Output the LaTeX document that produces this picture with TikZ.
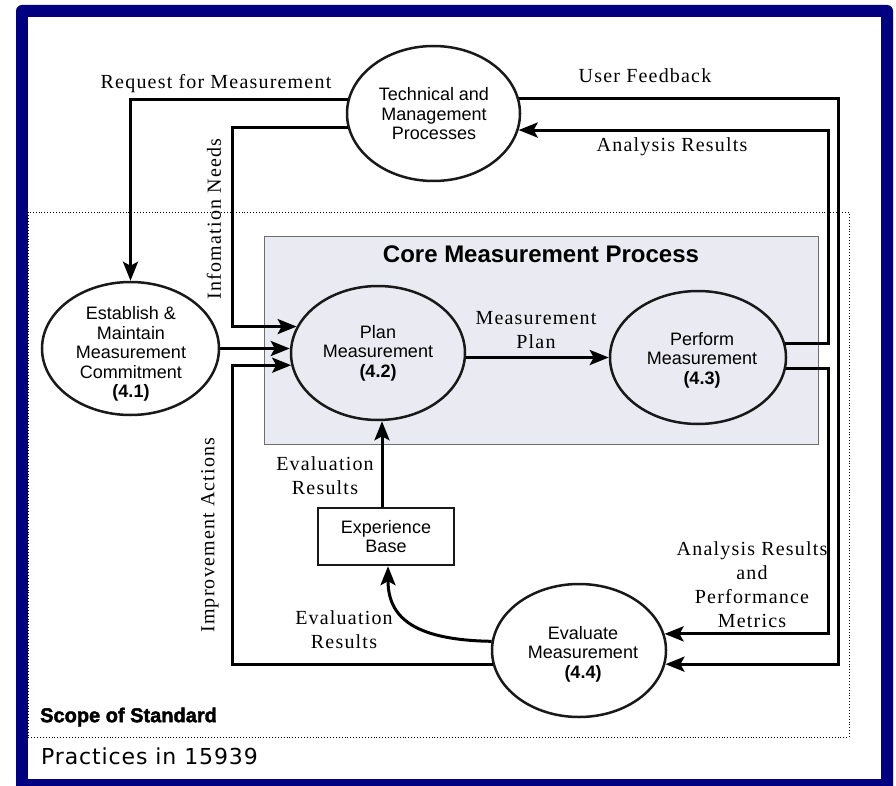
\documentclass[tikz,border=0pt]{standalone}
\usepackage{fontspec}
\setmainfont{Liberation Serif}
\setsansfont{Liberation Sans}
\newfontfamily\verdfont[LetterSpace=4]{DejaVu Sans}
\newfontfamily\blackfont[FakeBold=2]{Liberation Sans Bold}
\newfontfamily\lblfont[LetterSpace=6]{Liberation Serif}
\usetikzlibrary{shapes.geometric,arrows.meta,calc}
\definecolor{navy}{RGB}{0,0,128}
\definecolor{corefill}{RGB}{234,234,242}
\definecolor{coreedge}{RGB}{110,110,110}
\begin{document}
\begin{tikzpicture}[x=1pt,y=-1pt,
  proc/.style={ellipse, draw=black!90, line width=2.5pt, inner sep=0pt},
  ptext/.style={font=\sffamily\fontsize{18}{19.5}\selectfont, align=center, inner sep=0pt},
  arrowline/.style={line width=3pt, -{Stealth[length=19pt,width=15pt,inset=4pt]}},
  lbl/.style={font=\lblfont\fontsize{20}{24}\selectfont, align=center, inner sep=0pt},
]
\useasboundingbox (0,0) rectangle (896,786);
\clip (0,0) rectangle (896,786);
% frame
\fill[navy, rounded corners=6pt] (16,5) rectangle (893,800);
\fill[white] (28,17) rectangle (881,779);
% scope of standard
\draw[dotted, line width=0.9pt] (28,212.5) rectangle (849,737);
% core box
\node[draw=coreedge, fill=corefill, line width=1pt, minimum width=554pt, minimum height=207pt, inner sep=0pt] (core) at (541,340.5) {};
\node[font=\sffamily\bfseries\fontsize{24}{28}\selectfont, inner sep=0pt] (coretitle) at (541,254) {Core Measurement Process};

% processes
\node[proc, minimum width=173pt, minimum height=135pt] (tm) at (433.5,113.5) {};
\node[proc, minimum width=177pt, minimum height=133pt] (estab) at (130.5,348.5) {};
\node[proc, minimum width=174pt, minimum height=134pt] (plan) at (378,353) {};
\node[proc, minimum width=176pt, minimum height=133pt] (perf) at (698,357.5) {};
\node[proc, minimum width=174pt, minimum height=133pt] (evalm) at (579,650.5) {};

\node[ptext] (tmtext) at (434,114) {Technical and\\Management\\Processes};
\node[ptext] (estabtext) at (131,354) {Establish \&\\Maintain\\Measurement\\Commitment\\\textbf{(4.1)}};
\node[ptext] (plantext) at (378,353) {Plan\\Measurement\\\textbf{(4.2)}};
\node[ptext] (perftext) at (702,360) {Perform\\Measurement\\\textbf{(4.3)}};
\node[ptext] (evaltext) at (583,654) {Evaluate\\Measurement\\\textbf{(4.4)}};

\node[draw=black!90, line width=2.4pt, minimum width=136pt, minimum height=57pt, ptext] (exp) at (386,536.5) {Experience\\Base};

% helper columns
\coordinate (inL) at (232,0);
\coordinate (rA) at (828,0);
\coordinate (rB) at (838,0);

% connectors
\draw[arrowline] (tm.171.4) -| (estab.north);
\draw[arrowline] (tm.189.5) -| (inL |- plan.162) -- (plan.162);
\draw[arrowline] (estab.east) -- (estab.east -| plan.west);
\draw[arrowline] (evalm.189.7) -| (inL |- plan.188) -- (plan.188);
\draw[arrowline] ([xshift=-4pt]exp.north) -- ([xshift=4pt]plan.south);
\draw[arrowline] (evalm.174.4) .. controls (410,640) and (388,615) .. ([xshift=2pt]exp.south);
\draw[arrowline] (plan.east |- perf.west) -- (perf.west);
\draw[arrowline] (perf.9.58) -| (rA |- tm.349.6) -- (tm.349.6);
\draw[arrowline] (tm.10.43) -| (rB |- evalm.351.7) -- (evalm.351.7);
\draw[arrowline] (perf.353.8) -| (rA |- evalm.11.07) -- (evalm.11.07);

% labels
\node[lbl] (reqlbl) at (216,84) {Request for Measurement};
\node[lbl] (uflbl) at (645,76) {User Feedback};
\node[lbl] (arlbl) at (672,147) {Analysis Results};
\node[lbl, rotate=90] (inlbl) at (214,219) {Infomation Needs};
\node[lbl, rotate=90] (ialbl) at (210,535) {Improvement Actions};
\node[lbl] (er1lbl) at (325,476) {Evaluation\\Results};
\node[lbl] (er2lbl) at (344,630) {Evaluation\\Results};
\node[lbl] (mplbl) at (536,330) {Measurement\\Plan};
\node[lbl] (apmlbl) at (752,585) {Analysis Results\\and\\Performance\\Metrics};

\node[anchor=west, inner sep=0pt, font=\blackfont\fontsize{20}{24}\selectfont] (scope) at (40,717) {Scope of Standard};
\node[anchor=west, inner sep=0pt, font=\verdfont\fontsize{22}{24}\selectfont] (prac) at (41,756) {Practices in 15939};
\end{tikzpicture}
\end{document}
